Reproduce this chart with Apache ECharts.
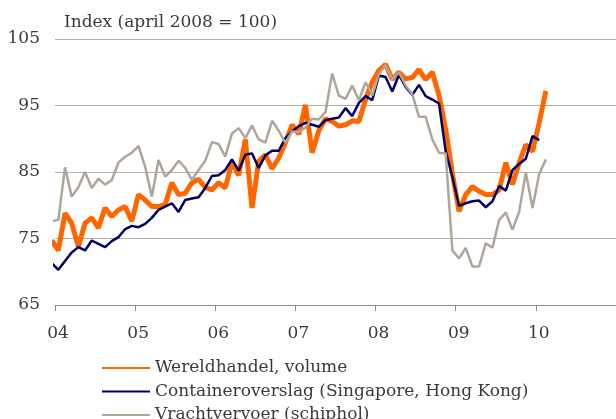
<!DOCTYPE html>
<html>
<head>
<meta charset="utf-8">
<script src="https://cdn.jsdelivr.net/npm/echarts@6/dist/echarts.min.js"></script>
<style>
  html, body { margin: 0; padding: 0; background: #ffffff; }
  #chart { width: 616px; height: 419px; }
</style>
</head>
<body>
<div id="chart"></div>
<script>
// Monthly observations, first value = Dec 2003, then Jan 2004 onwards
const startMonth = -1; // Dec 2003 relative to Jan 2004
const wereldhandel = [
  74.7, 73.2, 78.8, 77.3, 73.8, 77.3, 78.1, 76.6, 79.6, 78.3, 79.3, 79.8, 77.6,
  81.6, 80.8, 79.8, 79.8, 80.1, 83.4, 81.6, 81.8, 83.4, 83.9, 82.7, 82.3,
  83.4, 82.6, 86.5, 84.5, 89.9, 79.6, 86.6, 87.6, 85.5, 87.1, 89.4, 92.1,
  90.7, 95.1, 87.9, 91.2, 93.0, 92.6, 91.9, 92.1, 92.7, 92.6, 95.9, 98.5,
  100.3, 101.2, 98.9, 100.0, 99.0, 99.2, 100.4, 98.9, 100.0, 96.5, 91.4, 84.8,
  79.1, 81.6, 82.8, 82.1, 81.6, 81.6, 82.3, 86.4, 83.1, 86.4, 89.1, 88.1,
  92.4, 97.2
];
const containeroverslag = [
  71.3, 70.3, 71.6, 72.9, 73.7, 73.2, 74.7, 74.2, 73.7, 74.6, 75.2, 76.4, 76.9,
  76.7, 77.2, 78.1, 79.3, 79.8, 80.3, 79.0, 80.8, 81.0, 81.2, 82.6, 84.4,
  84.5, 85.3, 86.9, 85.2, 87.6, 87.8, 85.6, 87.5, 88.2, 88.2, 90.1, 91.1,
  91.9, 92.4, 92.1, 91.8, 92.8, 93.0, 93.2, 94.6, 93.4, 95.4, 96.4, 95.8,
  99.5, 99.3, 97.1, 99.6, 97.8, 96.6, 98.1, 96.4, 95.9, 95.3, 88.1, 84.3,
  79.9, 80.3, 80.6, 80.7, 79.7, 80.6, 82.9, 82.2, 85.3, 86.2, 87.0, 90.4,
  89.8
];
const vrachtvervoer = [
  77.6, 77.8, 85.7, 81.3, 82.7, 85.0, 82.6, 84.0, 83.1, 83.8, 86.4, 87.3, 87.9,
  88.9, 85.8, 81.3, 86.8, 84.3, 85.3, 86.7, 85.6, 83.8, 85.3, 86.7, 89.5,
  89.2, 87.3, 90.8, 91.6, 90.1, 92.0, 89.9, 89.4, 92.7, 91.2, 89.4, 91.1,
  91.0, 91.7, 93.0, 92.9, 94.0, 99.8, 96.5, 96.0, 98.0, 95.8, 98.5, 96.5,
  99.7, 101.1, 98.9, 100.0, 98.0, 96.7, 93.3, 93.3, 89.9, 87.9, 87.8, 73.2,
  72.0, 73.6, 70.8, 70.8, 74.3, 73.6, 77.8, 78.9, 76.3, 79.0, 84.9, 79.6,
  84.7, 86.9
];
const yearLabels = ['04', '05', '06', '07', '08', '09', '10'];
const seriesNames = [
  'Wereldhandel, volume',
  'Containeroverslag (Singapore, Hong Kong)',
  'Vrachtvervoer (schiphol)'
];
const titleText = 'Index (april 2008 = 100)';

// month index -> x (mid-month)
function toPairs(values) {
  return values.map((v, i) => [startMonth + i + 0.5, v]);
}

const FONT = 'DejaVu Serif';
const TXT = '#3a3a3a';

const chart = echarts.init(document.getElementById('chart'), null, { renderer: 'canvas' });
chart.setOption({
  animation: false,
  backgroundColor: '#ffffff',
  title: {
    text: titleText,
    left: 59,
    top: 9,
    textStyle: { fontFamily: FONT, fontSize: 17, fontWeight: 'normal', color: TXT }
  },
  grid: { left: 55, right: -1, top: 39, bottom: 114 },
  xAxis: {
    type: 'value',
    min: 0,
    max: 84,
    interval: 12,
    axisLine: { show: true, lineStyle: { color: '#8c8c8c', width: 1 } },
    axisTick: { show: true, length: 6, lineStyle: { color: '#8c8c8c' } },
    splitLine: { show: false },
    axisLabel: {
      margin: 20,
      fontFamily: FONT,
      fontSize: 17,
      color: TXT,
      padding: [0, 0, 0, 6],
      showMaxLabel: false,
      formatter: v => yearLabels[Math.round(v / 12)] || ''
    }
  },
  yAxis: {
    type: 'value',
    min: 65,
    max: 105,
    interval: 10,
    axisLine: { show: false },
    axisTick: { show: false },
    splitLine: { show: true, lineStyle: { color: '#b5ada4', width: 1 } },
    axisLabel: { margin: 15, fontFamily: FONT, fontSize: 17, color: TXT }
  },
  legend: {
    orient: 'vertical',
    left: 96,
    top: 353,
    height: 90,
    itemWidth: 48,
    itemHeight: 14,
    itemGap: 3.5,
    itemStyle: { opacity: 0 },
    textStyle: { fontFamily: FONT, fontSize: 17, color: TXT, lineHeight: 20 },
    data: seriesNames
  },
  series: [
    {
      name: seriesNames[0], type: 'line', data: toPairs(wereldhandel),
      showSymbol: false, symbol: 'none', clip: true,
      lineStyle: { color: '#ff6600', width: 5 }, itemStyle: { color: '#ff6600' }
    },
    {
      name: seriesNames[1], type: 'line', data: toPairs(containeroverslag),
      showSymbol: false, symbol: 'none', clip: true,
      lineStyle: { color: '#000066', width: 2.5 }, itemStyle: { color: '#000066' }
    },
    {
      name: seriesNames[2], type: 'line', data: toPairs(vrachtvervoer),
      showSymbol: false, symbol: 'none', clip: true,
      lineStyle: { color: '#aea59b', width: 2.5 }, itemStyle: { color: '#aea59b' }
    }
  ]
});
</script>
</body>
</html>
